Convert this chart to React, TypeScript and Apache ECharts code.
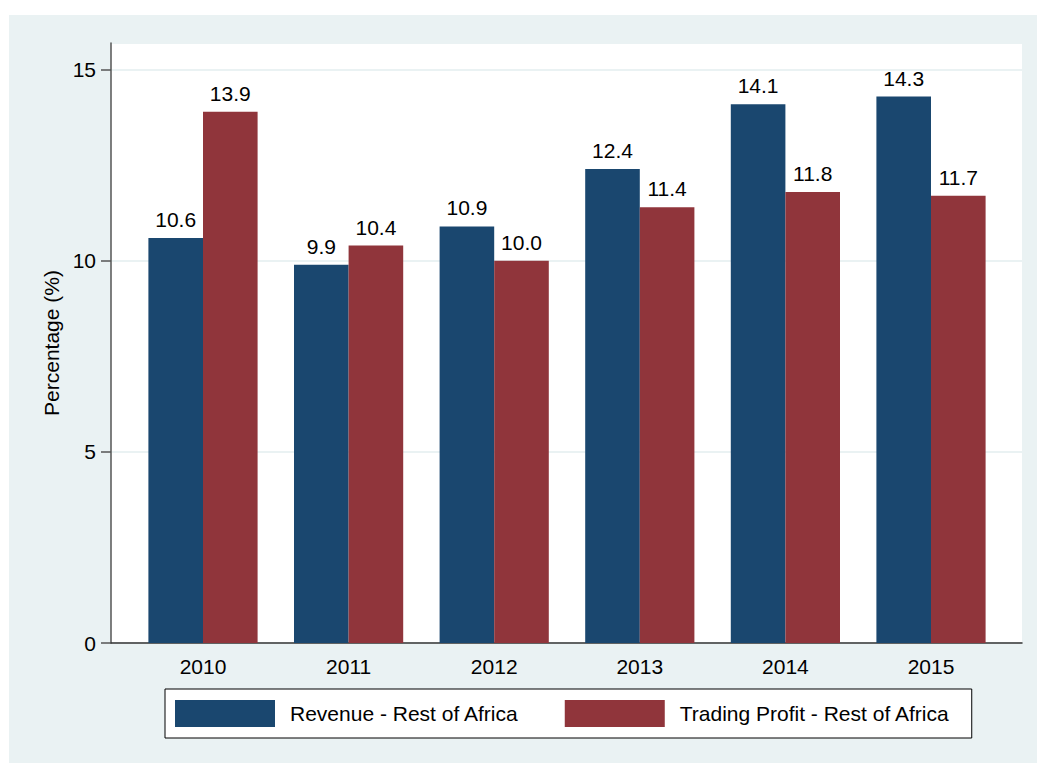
import React, { useEffect, useRef } from "react";
import * as echarts from "echarts";

const years = ["2010", "2011", "2012", "2013", "2014", "2015"];
const revenue = [10.6, 9.9, 10.9, 12.4, 14.1, 14.3];
const tradingProfit = [13.9, 10.4, 10.0, 11.4, 11.8, 11.7];
const seriesNames = ["Revenue - Rest of Africa", "Trading Profit - Rest of Africa"];
const yTickValues = [0, 5, 10, 15];
const yAxisTitle = "Percentage (%)";

const FONT = "'Liberation Sans', Arial, Helvetica, sans-serif";
const FS = 21;
const BLUE = "#1a476f";
const RED = "#90353b";
const BG = "#eaf2f3";

export default function App() {
  const ref = useRef<HTMLDivElement>(null);
  useEffect(() => {
    if (!ref.current) return;
    const chart = echarts.init(ref.current, undefined, { renderer: "svg" });
    const yMax = 15.7;
    const labelCommon = {
      show: true,
      position: "top" as const,
      distance: 8,
      fontSize: FS,
      fontFamily: FONT,
      color: "#000",
      formatter: (p: any) => Number(p.value).toFixed(1),
    };
    chart.setOption({
      animation: false,
      backgroundColor: "#fff",
      textStyle: { fontFamily: FONT },
      graphic: [
        {
          type: "rect",
          z: -100,
          silent: true,
          shape: { x: 9, y: 15, width: 1037 - 9, height: 763 - 15 },
          style: { fill: BG },
        },
      ],
      grid: [
        {
          left: 111,
          right: 15,
          top: 43,
          bottom: 120,
          show: true,
          backgroundColor: "#fff",
          borderWidth: 0,
        },
        {
          left: 130.2,
          right: 33.2,
          top: 43,
          bottom: 120,
        },
      ],
      xAxis: [
        {
          gridIndex: 0,
          type: "value",
          min: 0,
          max: 1,
          axisLine: { show: true, onZero: false, lineStyle: { color: "#333", width: 1.5 } },
          axisTick: { show: false },
          axisLabel: { show: false },
          splitLine: { show: false },
        },
        {
          gridIndex: 1,
          type: "category",
          data: years,
          axisLine: { show: false },
          axisTick: { show: false },
          axisLabel: { fontSize: FS, color: "#000", fontFamily: FONT, margin: 13 },
        },
      ],
      yAxis: [
        {
          gridIndex: 0,
          type: "value",
          min: 0,
          max: yMax,
          interval: 5,
          name: yAxisTitle,
          nameLocation: "middle",
          nameGap: 49,
          nameTextStyle: { fontSize: FS, color: "#000", fontFamily: FONT },
          axisLine: { show: true, lineStyle: { color: "#555", width: 1.5 } },
          axisTick: { show: true, length: 10, lineStyle: { color: "#555", width: 1.5 } },
          axisLabel: {
            fontSize: FS,
            color: "#000",
            fontFamily: FONT,
            margin: 15,
            showMaxLabel: false,
            formatter: (v: number) => (yTickValues.includes(v) ? String(v) : ""),
          },
          splitLine: { show: true, lineStyle: { color: BG, width: 2 } },
        },
        {
          gridIndex: 1,
          type: "value",
          min: 0,
          max: yMax,
          show: false,
          splitLine: { show: false },
        },
      ],
      legend: {
        left: 165,
        top: 689,
        orient: "horizontal",
        data: seriesNames,
        icon: "rect",
        itemWidth: 100,
        itemHeight: 27,
        itemGap: 46,
        padding: [11, 22, 11, 10],
        backgroundColor: "#fff",
        borderColor: "#000",
        borderWidth: 1,
        borderRadius: 0,
        textStyle: { fontSize: FS, color: "#000", fontFamily: FONT, padding: [0, 0, 0, 10] },
      },
      series: [
        {
          name: seriesNames[0],
          type: "bar",
          xAxisIndex: 1,
          yAxisIndex: 1,
          data: revenue,
          barWidth: 54.6,
          barGap: "0%",
          itemStyle: { color: BLUE },
          label: labelCommon,
        },
        {
          name: seriesNames[1],
          type: "bar",
          xAxisIndex: 1,
          yAxisIndex: 1,
          data: tradingProfit,
          barWidth: 54.6,
          barGap: "0%",
          itemStyle: { color: RED },
          label: labelCommon,
        },
      ],
    });
    return () => chart.dispose();
  }, []);
  return (
    <div
      ref={ref}
      style={{ position: "fixed", left: 0, top: 0, width: 1037, height: 763, background: "#fff" }}
    />
  );
}
